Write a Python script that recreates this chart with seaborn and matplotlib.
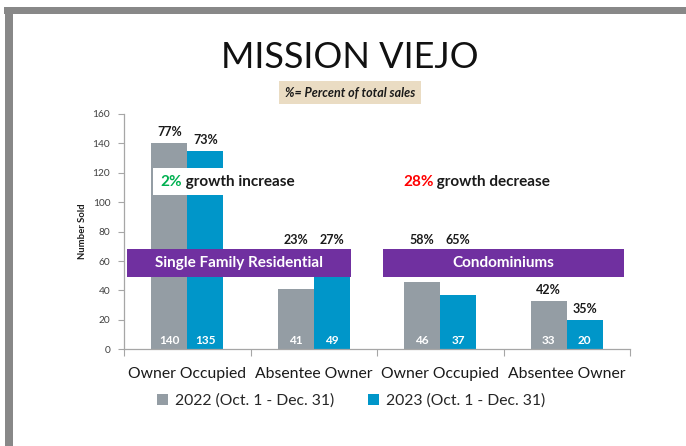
import matplotlib
matplotlib.use("Agg")
import matplotlib.pyplot as plt
from matplotlib.patches import Rectangle
import seaborn as sns
import pandas as pd

# ---- data ----
segments = ["SFR Owner", "SFR Absentee", "Condo Owner", "Condo Absentee"]
tick_labels = ["Owner Occupied", "Absentee Owner", "Owner Occupied", "Absentee Owner"]
series_names = ["2022 (Oct. 1 - Dec. 31)", "2023 (Oct. 1 - Dec. 31)"]
values_2022 = [140, 41, 46, 33]
values_2023 = [135, 49, 37, 20]
pct_2022 = ["77%", "23%", "58%", "42%"]
pct_2023 = ["73%", "27%", "65%", "35%"]
title = "MISSION VIEJO"
subtitle = "%= Percent of total sales"
banner_labels = ["Single Family Residential", "Condominiums"]
growth_pct = ["2%", "28%"]
growth_text = [" growth increase", " growth decrease"]
growth_colors = ["#00B050", "#FF0000"]

colors = ["#949DA4", "#0096C9"]
purple = "#7030A0"

df = pd.DataFrame({
    "segment": segments * 2,
    "value": values_2022 + values_2023,
    "series": [series_names[0]] * 4 + [series_names[1]] * 4,
})

sns.set_theme(style="white")
plt.rcParams["font.family"] = ["Lato", "DejaVu Sans"]

fig = plt.figure(figsize=(6.86, 4.46), dpi=100)
ax = fig.add_axes([0.1808, 0.2168, 0.7376, 0.5276])

sns.barplot(data=df, x="segment", y="value", hue="series", order=segments,
            hue_order=series_names, palette=colors, width=0.57, saturation=1,
            ax=ax, edgecolor="none", linewidth=0)

ax.set_xlim(-0.5, 3.5)
ax.set_ylim(0, 160)
ax.set_yticks(range(0, 161, 20))
ax.tick_params(axis="y", labelsize=7.3, colors="#A6A6A6", labelcolor="#404040",
               length=4, width=0.8, left=True, direction="out", pad=6)
ax.set_xticks(range(4))
ax.set_xticklabels(tick_labels, fontsize=11.3, color="#1a1a1a")
ax.tick_params(axis="x", length=0, pad=13)
ax.set_xticks([-0.5, 0.5, 1.5, 2.5, 3.5], minor=True)
ax.tick_params(axis="x", which="minor", length=5, width=0.8, colors="#A6A6A6",
               bottom=True, direction="out")
for s in ["top", "right"]:
    ax.spines[s].set_visible(False)
for s in ["left", "bottom"]:
    ax.spines[s].set_color("#A6A6A6")
    ax.spines[s].set_linewidth(0.9)
ax.set_xlabel("")
ax.set_ylabel("Number Sold", fontsize=6.8, fontweight="bold", color="#1a1a1a", labelpad=4)

handles, labels = ax.get_legend_handles_labels()
ax.get_legend().remove()

# value labels inside bars, percent labels above (lifted above banner when blocked)
banner_bottom, banner_top = 49.4, 68.0
pcts = [pct_2022, pct_2023]
for ci, cont in enumerate(ax.containers):
    for bi, bar in enumerate(cont):
        xc = bar.get_x() + bar.get_width() / 2
        v = bar.get_height()
        pair_max = max(values_2022[bi], values_2023[bi])
        ax.text(xc, 6.3, f"{int(round(v))}", ha="center", va="center", color="white",
                fontsize=8.5, fontweight="bold", zorder=6)
        if pair_max + 7.5 > banner_bottom and pair_max < 100:
            py = banner_top + 6.5
        else:
            py = v + 7.5
        ax.text(xc, py, pcts[ci][bi], ha="center", va="center", color="#1a1a1a",
                fontsize=9, fontweight="bold", zorder=6)

# banners
banner_x = [(-0.479, 1.292), (1.545, 3.455)]
for (x0, x1), lab in zip(banner_x, banner_labels):
    ax.add_patch(Rectangle((x0, banner_bottom), x1 - x0, banner_top - banner_bottom,
                           facecolor=purple, edgecolor="none", zorder=5, clip_on=False))
    ax.text((x0 + x1) / 2, (banner_bottom + banner_top) / 2, lab, ha="center", va="center",
            color="white", fontsize=11, fontweight="bold", zorder=6)

# growth annotations
ax.add_patch(Rectangle((-0.271, 105), 1.16, 18.3, facecolor="white", edgecolor="none", zorder=4))
growth_x = [-0.215, 1.705]
for gx, p, t, c in zip(growth_x, growth_pct, growth_text, growth_colors):
    t1 = ax.text(gx, 114, p, ha="left", va="center", color=c, fontsize=11,
                 fontweight="bold", zorder=6)
    ax.annotate(t, xy=(1, 0.5), xycoords=t1, ha="left", va="center", color="#1a1a1a",
                fontsize=11, fontweight="bold", zorder=6)

# title / subtitle
fig.text(0.510, 0.872, title, ha="center", va="center", fontsize=26, color="#111111")
fig.text(0.510, 0.792, subtitle, ha="center", va="center", fontsize=9, fontweight="bold",
         style="italic", color="#1a1a1a",
         bbox=dict(boxstyle="square,pad=0.45", facecolor="#EADCC3", edgecolor="none"))

fig.legend(handles, labels, loc="center", bbox_to_anchor=(0.512, 0.101), ncol=2,
           frameon=False, fontsize=11.3, handlelength=0.7, handleheight=0.7,
           handletextpad=0.4, columnspacing=2.2)

# slide frame
fig.patches.append(Rectangle((4 / 686, 1 - 14 / 446), 1, 7 / 446, transform=fig.transFigure,
                             facecolor="#888888", edgecolor="none", figure=fig))
fig.patches.append(Rectangle((5 / 686, 0), 8 / 686, 1 - 7 / 446, transform=fig.transFigure,
                             facecolor="#888888", edgecolor="none", figure=fig))

fig.savefig("out.png", dpi=100, facecolor="white")
